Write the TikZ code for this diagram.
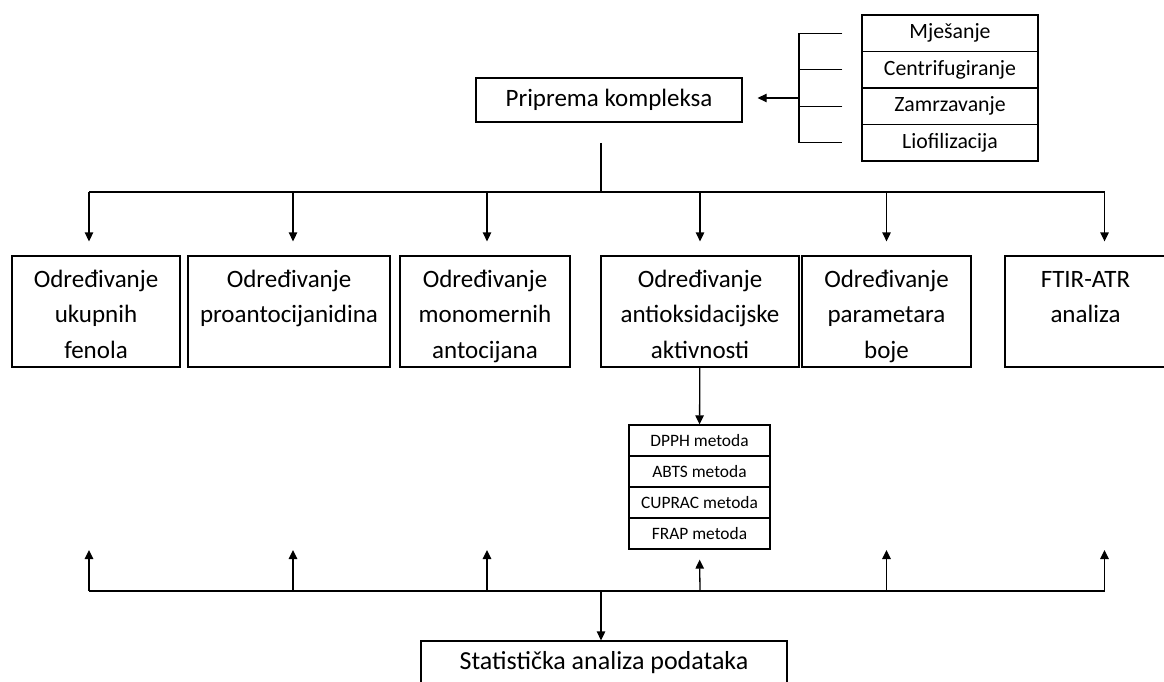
\documentclass[tikz,border=0pt]{standalone}
\usepackage{fontspec}
\setmainfont{Carlito}
\usetikzlibrary{arrows.meta,positioning}

\begin{document}
\begin{tikzpicture}[x=1pt, y=-1pt, line width=1.3pt,
        >={Triangle[length=9pt,width=8.5pt]},
        box/.style={draw, align=center, inner sep=0pt},
        big/.style={box, font=\fontsize{25}{35.5}\selectfont, minimum height=111pt,
            text height=102pt, text depth=9pt},
        op/.style={box, font=\fontsize{21.8}{25}\selectfont, minimum width=176pt, minimum height=36.5pt, node distance=36.5pt},
        me/.style={box, font=\fontsize{17.4}{20}\selectfont, minimum width=141pt, minimum height=31pt, node distance=31pt}]
        \useasboundingbox (0,0) rectangle (1164,682);

        \node[box, font=\fontsize{25}{30}\selectfont, minimum width=266pt, minimum height=44pt] (Priprema) at (609,100) {Priprema kompleksa};

        \node[op] (Op_1) at (950,33.25) {Mješanje};
        \node[op, below of=Op_1] (Op_2) {Centrifugiranje};
        \node[op, below of=Op_2] (Op_3) {Zamrzavanje};
        \node[op, below of=Op_3] (Op_4) {Liofilizacija};

        \node[big, minimum width=168pt] (Od_1) at (96,311.5) {Određivanje\\ukupnih\\fenola};
        \node[big, minimum width=202pt] (Od_2) at (289,311.5) {Određivanje\\proantocijanidina\\~};
        \node[big, minimum width=170pt] (Od_3) at (485,311.5) {Određivanje\\monomernih\\antocijana};
        \node[big, minimum width=198pt] (Od_4) at (700,311.5) {Određivanje\\antioksidacijske\\aktivnosti};
        \node[big, minimum width=169pt] (Od_5) at (886.5,311.5) {Određivanje\\parametara\\boje};
        \node[big, minimum width=161pt] (Od_6) at (1085.5,311.5) {FTIR-ATR\\analiza\\~};

        \node[me] (Me_1) at (699.5,440.5) {DPPH metoda};
        \node[me, below of=Me_1] (Me_2) {ABTS metoda};
        \node[me, below of=Me_2] (Me_3) {CUPRAC metoda};
        \node[me, below of=Me_3] (Me_4) {FRAP metoda};

        \node[box, font=\fontsize{26}{30}\selectfont, minimum width=366pt, minimum height=44pt] (Stat) at (604,663) {Statistička analiza podataka};

        % bracket of the preparation steps
        \coordinate (br) at (799,98);
        \draw ([xshift=-19pt]Op_1.west) -| (br |- Op_4.west) -- ([xshift=-19pt]Op_4.west);
        \draw ([xshift=-19pt]Op_2.west) -- (br |- Op_2.west);
        \draw ([xshift=-19pt]Op_3.west) -- (br |- Op_3.west);
        \draw[->, shorten >=15pt] (br) -- (br -| Priprema.east);

        % entry points of the analyses
        \foreach \i/\dx in {1/-7,2/4,3/2,4/0,5/0,6/19} {
            \coordinate (in_\i) at ([xshift=\dx pt]Od_\i.north);
        }

        \coordinate (hub_t) at (601,143);
        \coordinate (bus_t) at (601,192);
        \draw (hub_t) -- (bus_t);
        \draw (in_1 |- bus_t) -- (in_6 |- bus_t);
        \foreach \i in {1,...,6}
            \draw[->, shorten >=14pt] (in_\i |- bus_t) -- (in_\i);

        \draw[->] (Od_4) -- (Me_1);

        \coordinate (bus_b) at (601,591);
        \coordinate (tip_b) at (601,550);
        \draw (in_1 |- bus_b) -- (in_6 |- bus_b);
        \foreach \i in {1,2,3,5,6}
            \draw[->] (in_\i |- bus_b) -- (in_\i |- tip_b);
        \draw[->, shorten >=10pt] (in_4 |- bus_b) -- (Me_4.south);
        \draw[->] (bus_b) -- (bus_b |- Stat.north);
\end{tikzpicture}
\end{document}
